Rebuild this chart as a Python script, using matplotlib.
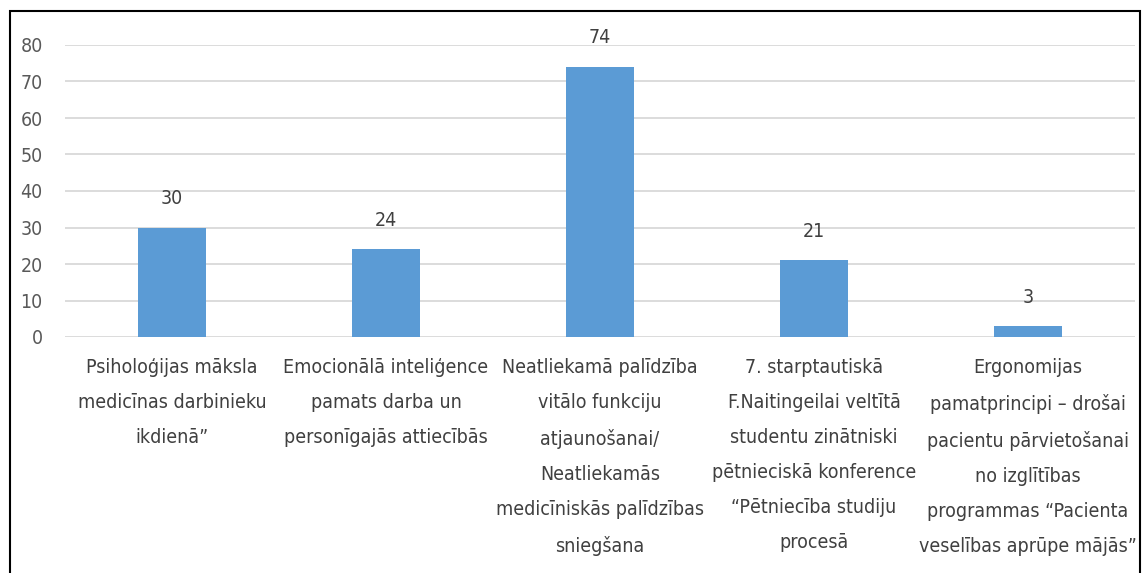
import matplotlib
matplotlib.use("Agg")
import matplotlib.pyplot as plt
from matplotlib.patches import Rectangle
from matplotlib import font_manager

categories = [
    "Psiholoģijas māksla\nmedicīnas darbinieku\nikdienā”",
    "Emocionālā inteliģence\npamats darba un\npersonīgajās attiecībās",
    "Neatliekamā palīdzība\nvitālo funkciju\natjaunošanai/\nNeatliekamās\nmedicīniskās palīdzības\nsniegšana",
    "7. starptautiskā\nF.Naitingeilai veltītā\nstudentu zinātniski\npētnieciskā konference\n“Pētniecība studiju\nprocesā",
    "Ergonomijas\npamatprincipi – drošai\npacientu pārvietošanai\nno izglītības\nprogrammas “Pacienta\nveselības aprūpe mājās”",
]
values = [30, 24, 74, 21, 3]
yticks = [0, 10, 20, 30, 40, 50, 60, 70, 80]

names = {f.name for f in font_manager.fontManager.ttflist}
if 'Liberation Sans Narrow' in names:
    plt.rcParams['font.family'] = ['Liberation Sans Narrow', 'DejaVu Sans']
else:
    plt.rcParams['font.family'] = ['DejaVu Sans']
    plt.rcParams['font.stretch'] = 'condensed'

fig = plt.figure(figsize=(11.48, 5.73), dpi=100)
ax = fig.add_axes([65/1148, 1-337/573, (1135-65)/1148, (337-45)/573])

x = range(len(categories))
bars = ax.bar(x, values, width=0.32, color="#5b9bd5", zorder=3)
for xi, v in zip(x, values):
    ax.annotate(str(v), (xi, v), xytext=(0, 14), textcoords="offset points",
                ha="center", va="bottom", fontsize=14, color="#404040")

ax.set_xlim(-0.5, len(categories) - 0.5)
ax.set_ylim(0, 80)
ax.set_yticks(yticks)
ax.set_yticklabels([str(t) for t in yticks], fontsize=14, color="#595959")
ax.set_xticks(list(x))
ax.set_xticklabels(categories, fontsize=14, color="#404040", linespacing=2.07)
ax.tick_params(axis="both", length=0)
ax.tick_params(axis="y", pad=16)
ax.tick_params(axis="x", pad=15)
ax.grid(axis="y", color="#d9d9d9", linewidth=1.3, zorder=0)
for s in ax.spines.values():
    s.set_visible(False)

fig.patches.append(Rectangle((10/1148, -0.1), (1140-10)/1148, 1.1 - 11/573,
                             transform=fig.transFigure, fill=False,
                             edgecolor="black", linewidth=1.5))

fig.savefig("out.png", dpi=100)
